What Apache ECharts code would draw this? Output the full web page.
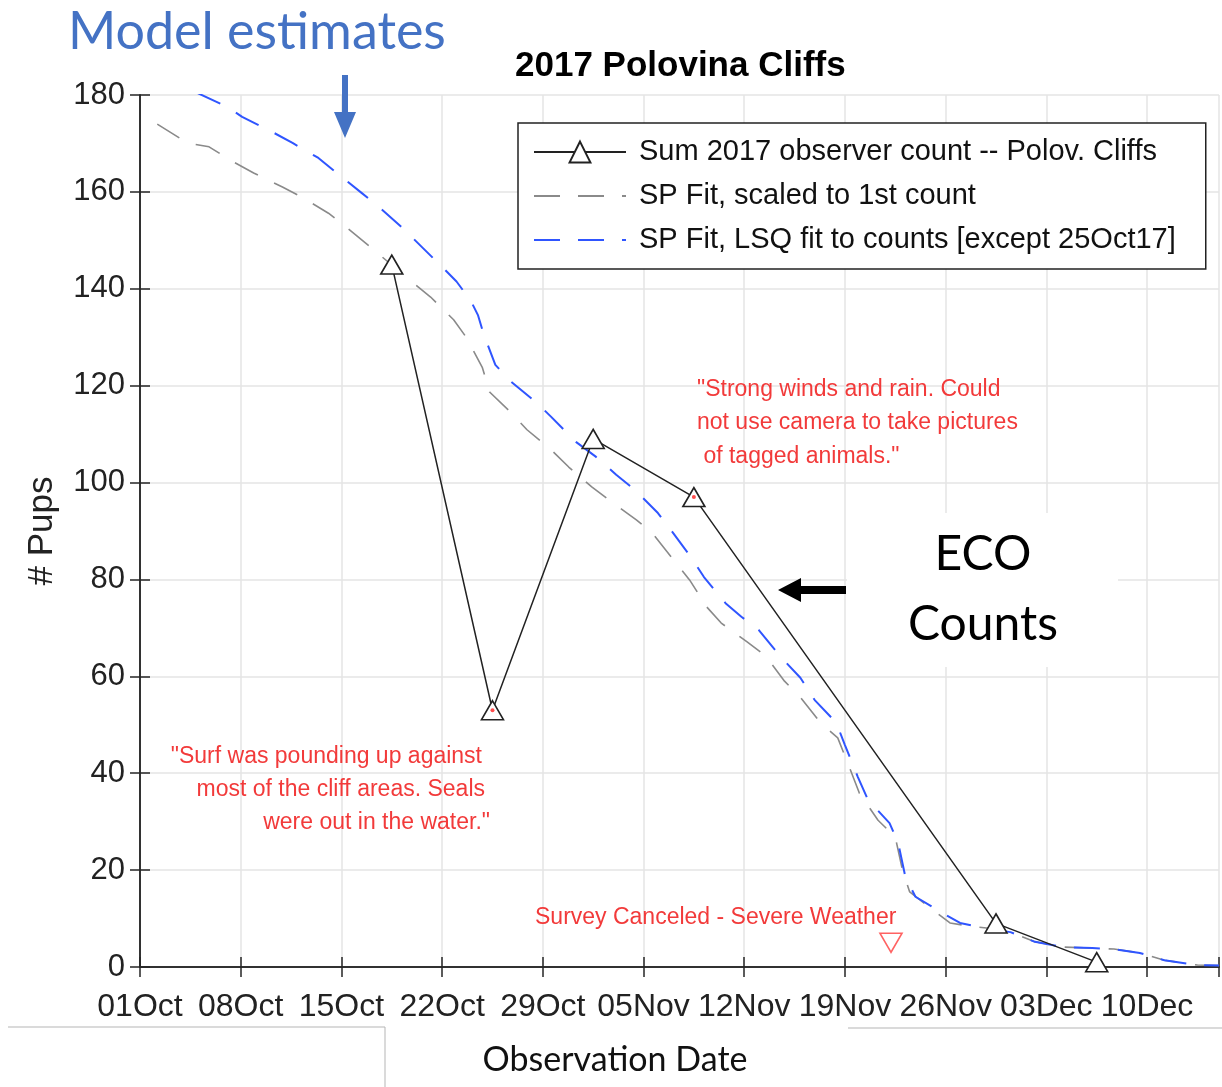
<!DOCTYPE html>
<html>
<head>
<meta charset="utf-8">
<script src="https://cdn.jsdelivr.net/npm/echarts@6/dist/echarts.min.js"></script>
<style>
  html, body { margin: 0; background: #fff; }
  #chart { width: 1222px; height: 1087px; }
</style>
</head>
<body>
<div id="chart"></div>
<script>
// x values are days since 01 Oct 2017, 00:00
const tickLabels = ['01Oct', '08Oct', '15Oct', '22Oct', '29Oct', '05Nov', '12Nov', '19Nov', '26Nov', '03Dec', '10Dec']

// observer counts (black triangles)
const countDays = [17.5, 24.5, 31.5, 38.5, 59.5, 66.5]
const countValues = [145, 53, 109, 97, 9, 1]
// small red dots inside two of the count markers
const noteDays = [24.5, 38.5]
const noteValues = [53, 97]
// cancelled survey (red inverted triangle)
const cancelDays = [52.2]
const cancelValues = [5]

// SP fit, scaled to 1st count (grey dashes)
const scaledDays = [1.2, 3.3, 4.8, 6.6, 7.9, 9.9, 11.2, 13.1, 14.3, 16.1, 18.9, 20.2, 21.8, 22.7, 23.8, 24.3,
  25.8, 26.9, 28.6, 29.8, 31.4, 32.6, 34.5, 35.6, 37.1, 38.2, 39.4, 40.4, 42.2, 43.5, 44.8, 45.9, 47.3, 48.5,
  49.3, 50.0, 51.3, 52.5, 53.0, 53.5, 54.5, 56.3, 57.5, 59.0, 60.5, 62.2, 64.2, 66.2, 67.7, 69.5, 71.2, 73.5, 75]
const scaledValues = [174.0, 170.1, 169.3, 166.0, 163.9, 161.0, 159.0, 155.6, 152.8, 148.4, 141.4, 138.3, 133.6, 129.9, 123.7, 118.7,
  114.4, 110.9, 106.7, 103.2, 99.1, 96.4, 92.3, 89.6, 84.0, 79.9, 74.3, 71.0, 67.1, 64.2, 59.0, 55.7, 50.4, 47.3,
  41.3, 35.9, 30.3, 26.8, 20.0, 15.5, 13.2, 9.1, 8.5, 8.0, 7.2, 5.2, 4.1, 3.9, 3.7, 2.9, 1.4, 0.4, 0.3]

// SP fit, LSQ fit to counts (blue dashes)
const lsqDays = [1.2, 4.0, 6.1, 7.1, 9.3, 10.6, 12.4, 13.6, 15.4, 16.6, 18.3, 19.6, 21.0, 22.0, 23.0, 23.5, 23.9,
  24.7, 25.8, 27.6, 28.6, 30.3, 31.7, 33.1, 34.4, 36.0, 36.9, 38.3, 39.2, 40.7, 41.8, 43.0, 44.6, 45.9, 46.9,
  48.4, 49.0, 49.9, 50.6, 52.1, 52.7, 53.2, 53.9, 55.8, 57.0, 58.7, 60.5, 62.2, 64.2, 66.2, 67.7, 69.5, 71.2, 73.5, 75]
const lsqValues = [184.5, 180.4, 177.5, 175.5, 172.2, 170.1, 167.0, 164.1, 159.8, 156.9, 152.4, 148.6, 144.5, 141.5, 137.5, 134.5, 130.5,
  124.3, 120.8, 116.4, 113.5, 108.4, 105.3, 101.6, 98.5, 93.7, 90.2, 84.6, 80.5, 75.1, 72.3, 69.6, 63.8, 59.7, 55.1,
  50.4, 45.8, 39.2, 34.5, 29.7, 25.6, 18.6, 14.5, 11.1, 9.1, 8.0, 7.2, 5.2, 4.1, 3.9, 3.7, 2.9, 1.4, 0.4, 0.3]

const names = [
  'Sum 2017 observer count -- Polov. Cliffs',
  'SP Fit, scaled to 1st count',
  'SP Fit, LSQ fit to counts [except 25Oct17]'
]

// annotation text lines
const windLines = ['"Strong winds and rain. Could', 'not use camera to take pictures', ' of tagged animals."']
const surfLines = ['"Surf was pounding up against', 'most of the cliff areas. Seals', 'were out in the water."']

const HELV = '"Liberation Sans", Arial, Helvetica, sans-serif'
const CALIBRI = 'Lato, "Open Sans", sans-serif'
const RED = '#f23a3a'

const pairs = (xs, ys) => xs.map((x, i) => [x, ys[i]])

const redText = (lines, xs, ys, align) => lines.map((t, i) => ({
  type: 'text',
  x: xs[i],
  y: ys[i],
  z: 10,
  style: {text: t, font: '23px ' + HELV, fill: RED, align: align, verticalAlign: 'middle'}
}))

const axisLine = {show: true, lineStyle: {color: '#262626', width: 1.5}}
const innerTick = {show: true, inside: true, length: 10, lineStyle: {color: '#262626', width: 1.5}}

const option = {
  animation: false,
  backgroundColor: '#fff',
  title: {
    text: '2017 Polovina Cliffs',
    left: 515,
    top: 49,
    padding: 0,
    textStyle: {fontSize: 35, fontWeight: 'bold', color: '#000', fontFamily: HELV}
  },
  grid: {left: 140, top: 95, right: -3, bottom: 120},
  legend: {
    orient: 'vertical',
    left: 518,
    top: 123,
    data: [
      {name: names[0]},
      {name: names[1], itemStyle: {opacity: 0}},
      {name: names[2], itemStyle: {opacity: 0}}
    ],
    selectedMode: false,
    backgroundColor: '#fff',
    borderColor: '#222',
    borderWidth: 1.5,
    borderRadius: 0,
    padding: [14, 30, 14, 15],
    itemWidth: 92,
    itemHeight: 26,
    itemGap: 14,
    textStyle: {fontSize: 29, lineHeight: 30, color: '#111', fontFamily: HELV, padding: [0, 0, 0, 8]}
  },
  xAxis: [
    {
      type: 'value',
      min: 0,
      max: 75,
      interval: 7,
      position: 'bottom',
      axisLine: axisLine,
      axisTick: innerTick,
      axisLabel: {
        formatter: v => (v % 7 === 0 ? tickLabels[v / 7] : ''),
        fontSize: 32,
        color: '#222',
        fontFamily: HELV,
        margin: 24
      },
      splitLine: {show: true, lineStyle: {color: '#e4e4e4', width: 1.5}}
    },
    {
      type: 'value',
      min: 0,
      max: 75,
      interval: 7,
      position: 'top',
      axisLine: axisLine,
      axisTick: innerTick,
      axisLabel: {show: false},
      splitLine: {show: false}
    }
  ],
  yAxis: [
    {
      type: 'value',
      min: 0,
      max: 180,
      interval: 20,
      name: '# Pups',
      nameLocation: 'middle',
      nameGap: 80,
      nameRotate: 90,
      nameTextStyle: {fontSize: 35, color: '#222', fontFamily: HELV},
      axisLine: axisLine,
      axisTick: innerTick,
      axisLabel: {fontSize: 31, color: '#222', fontFamily: HELV, margin: 15},
      splitLine: {show: true, lineStyle: {color: '#e4e4e4', width: 1.5}}
    },
    {
      type: 'value',
      min: 0,
      max: 180,
      interval: 20,
      position: 'right',
      axisLine: axisLine,
      axisTick: innerTick,
      axisLabel: {show: false},
      splitLine: {show: false}
    }
  ],
  series: [
    {
      name: names[1],
      type: 'line',
      data: pairs(scaledDays, scaledValues),
      symbol: 'none',
      lineStyle: {color: '#8a8a8a', width: 1.6, type: [26, 18]},
      itemStyle: {color: '#8a8a8a'},
      z: 2
    },
    {
      name: names[2],
      type: 'line',
      data: pairs(lsqDays, lsqValues),
      symbol: 'none',
      lineStyle: {color: '#2f55ff', width: 2, type: [26, 18]},
      itemStyle: {color: '#2f55ff'},
      z: 3
    },
    {
      name: names[0],
      type: 'line',
      data: pairs(countDays, countValues),
      symbol: 'triangle',
      symbolSize: [22, 19],
      lineStyle: {color: '#222', width: 1.5},
      itemStyle: {color: '#fff', borderColor: '#222', borderWidth: 1.6},
      z: 4
    },
    {
      name: 'notes',
      type: 'scatter',
      data: pairs(noteDays, noteValues),
      symbol: 'circle',
      symbolSize: 4,
      itemStyle: {color: '#ff2020'},
      z: 5
    },
    {
      name: 'Survey Canceled',
      type: 'scatter',
      data: pairs(cancelDays, cancelValues),
      symbol: 'triangle',
      symbolRotate: 180,
      symbolSize: [22, 19],
      itemStyle: {color: '#fff', borderColor: '#ff3b3b', borderWidth: 1.6},
      z: 5
    }
  ],
  graphic: [
    {
      type: 'text', x: 68, y: 32, z: 10,
      style: {text: 'Model estimates', font: '52px ' + CALIBRI, fill: '#4472c4', align: 'left', verticalAlign: 'middle'}
    },
    {
      type: 'polygon', z: 10,
      shape: {points: [[342, 75], [348, 75], [348, 112], [356, 112], [345, 138], [334, 112], [342, 112]]},
      style: {fill: '#4472c4'}
    },
    {
      type: 'rect', z: 5,
      shape: {x: 847, y: 513, width: 271, height: 154},
      style: {fill: '#fff'}
    },
    {
      type: 'text', x: 983, y: 555, z: 10,
      style: {text: 'ECO', font: '48px ' + CALIBRI, fill: '#000', align: 'center', verticalAlign: 'middle'}
    },
    {
      type: 'text', x: 983, y: 625, z: 10,
      style: {text: 'Counts', font: '48px ' + CALIBRI, fill: '#000', align: 'center', verticalAlign: 'middle'}
    },
    {
      type: 'polygon', z: 10,
      shape: {points: [[778, 590], [801, 578], [801, 586], [846, 586], [846, 594], [801, 594], [801, 602]]},
      style: {fill: '#000'}
    },
    ...redText(windLines, [697, 697, 697], [390, 423, 457], 'left'),
    ...redText(surfLines, [482, 485, 490], [757, 790, 823], 'right'),
    ...redText(['Survey Canceled - Severe Weather'], [535], [918], 'left'),
    {
      type: 'text', x: 615, y: 1060, z: 10,
      style: {text: 'Observation Date', font: '34px ' + CALIBRI, fill: '#111', align: 'center', verticalAlign: 'middle'}
    },
    {
      type: 'polyline', z: 10,
      shape: {points: [[8, 1027], [385, 1027], [385, 1087]]},
      style: {stroke: '#b5b5b5', lineWidth: 1, fill: null}
    },
    {
      type: 'line', z: 10,
      shape: {x1: 848, y1: 1028, x2: 1222, y2: 1028},
      style: {stroke: '#b5b5b5', lineWidth: 1}
    }
  ]
}

const chart = echarts.init(document.getElementById('chart'))
chart.setOption(option)
</script>
</body>
</html>
